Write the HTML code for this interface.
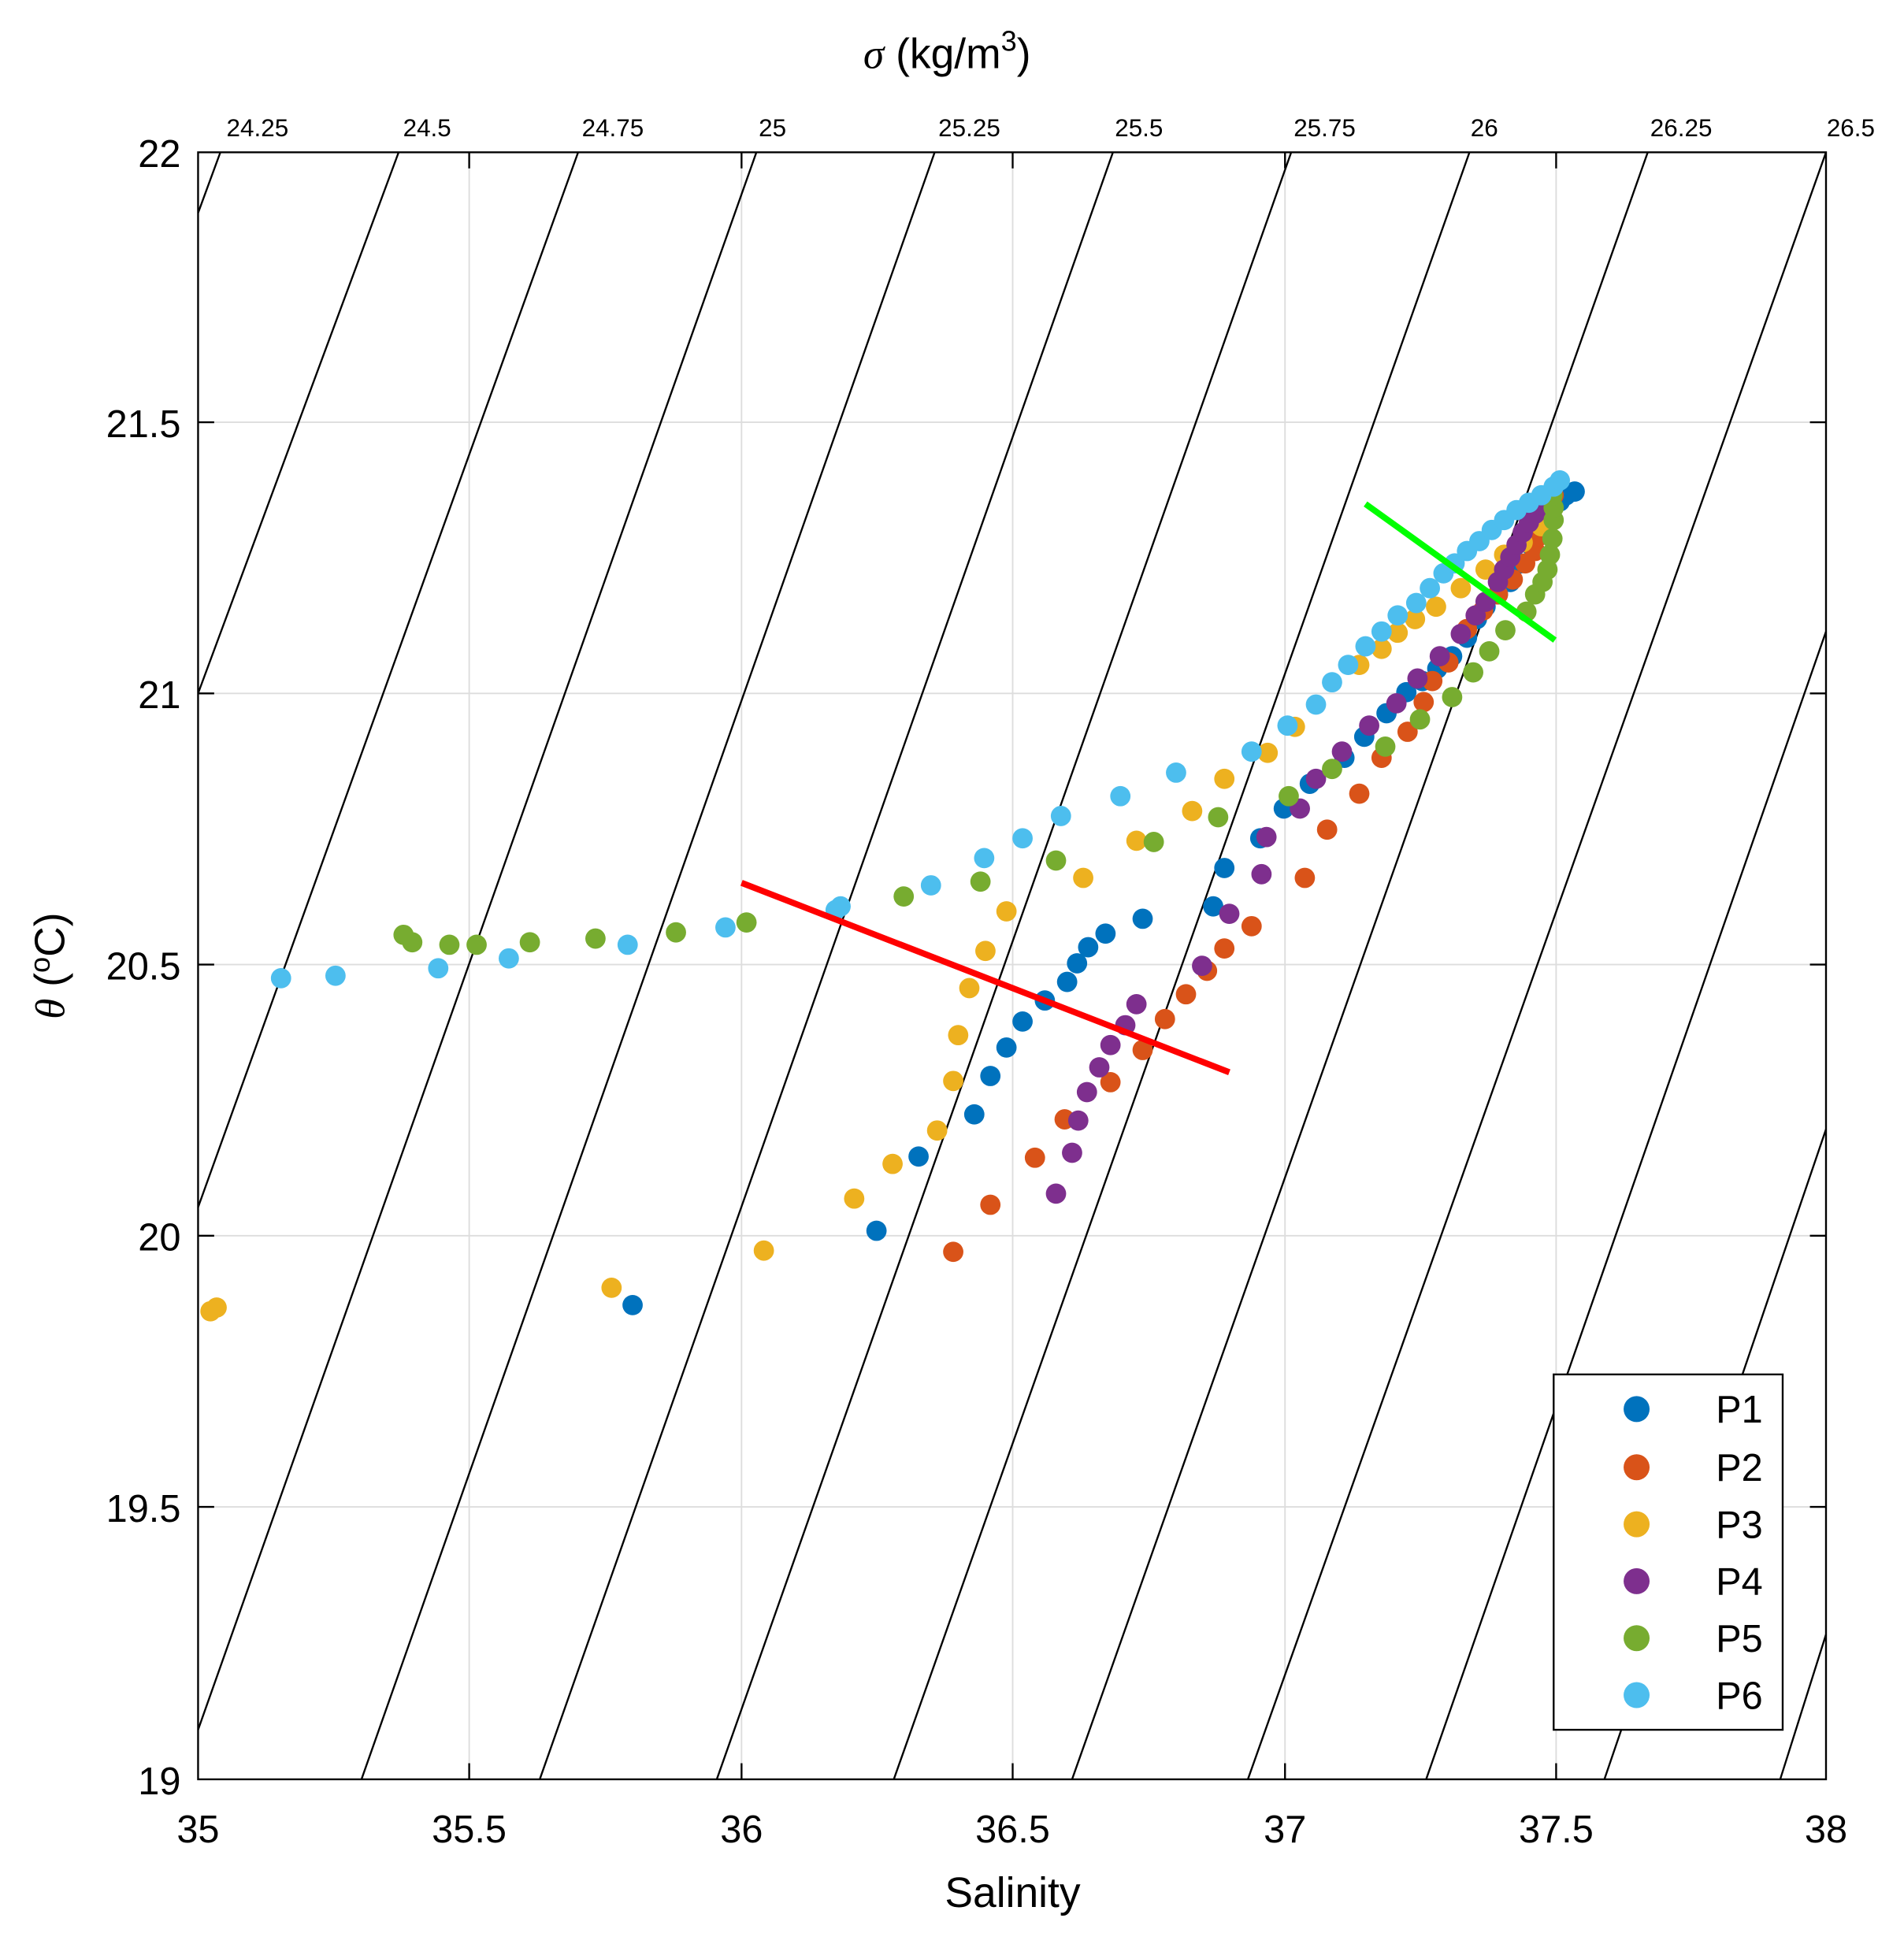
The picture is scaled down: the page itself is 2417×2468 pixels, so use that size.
<!DOCTYPE html>
<html><head><meta charset="utf-8"><style>html,body{margin:0;padding:0;background:#fff}svg{display:block}</style></head><body>
<svg width="2417" height="2468" viewBox="0 0 1538 1570" preserveAspectRatio="none" xmlns="http://www.w3.org/2000/svg" font-family="Liberation Sans, Arial, sans-serif">
<rect width="1538" height="1570" fill="#fff"/>
<g stroke="#ddd" stroke-width="1.2">
<line x1="379" y1="123" x2="379" y2="1437"/><line x1="599" y1="123" x2="599" y2="1437"/><line x1="818" y1="123" x2="818" y2="1437"/><line x1="1038" y1="123" x2="1038" y2="1437"/><line x1="1257" y1="123" x2="1257" y2="1437"/>
<line x1="160" y1="341" x2="1475" y2="341"/><line x1="160" y1="560" x2="1475" y2="560"/><line x1="160" y1="779" x2="1475" y2="779"/><line x1="160" y1="998" x2="1475" y2="998"/><line x1="160" y1="1217" x2="1475" y2="1217"/>
</g>
<g stroke="#000" stroke-width="1.5" fill="none">
<line x1="178" y1="123" x2="160" y2="172"/><line x1="322" y1="123" x2="160" y2="560"/><line x1="467" y1="123" x2="160" y2="975"/><line x1="611" y1="123" x2="160" y2="1397"/>
<line x1="755" y1="123" x2="292" y2="1437"/><line x1="899" y1="123" x2="436" y2="1437"/><line x1="1043" y1="123" x2="579" y2="1437"/><line x1="1187" y1="123" x2="722" y2="1437"/><line x1="1331" y1="123" x2="866" y2="1437"/><line x1="1475" y1="123" x2="1008" y2="1437"/>
<line x1="1475" y1="510" x2="1152" y2="1437"/><line x1="1475" y1="912" x2="1296" y2="1437"/><line x1="1475" y1="1320" x2="1438" y2="1437"/>
</g>
<g>
<g fill="#0072BD">
<circle cx="511" cy="1054" r="8.2"/><circle cx="708" cy="994" r="8.2"/><circle cx="742" cy="934" r="8.2"/><circle cx="787" cy="900" r="8.2"/><circle cx="800" cy="869" r="8.2"/><circle cx="813" cy="846" r="8.2"/><circle cx="826" cy="825" r="8.2"/><circle cx="844" cy="808" r="8.2"/><circle cx="862" cy="793" r="8.2"/><circle cx="870" cy="778" r="8.2"/><circle cx="879" cy="765" r="8.2"/><circle cx="893" cy="754" r="8.2"/><circle cx="923" cy="742" r="8.2"/><circle cx="980" cy="732" r="8.2"/><circle cx="989" cy="701" r="8.2"/><circle cx="1018" cy="677" r="8.2"/><circle cx="1037" cy="653" r="8.2"/><circle cx="1058" cy="633" r="8.2"/><circle cx="1086" cy="612" r="8.2"/><circle cx="1102" cy="595" r="8.2"/><circle cx="1120" cy="576" r="8.2"/><circle cx="1136" cy="559" r="8.2"/><circle cx="1149" cy="550" r="8.2"/><circle cx="1161" cy="540" r="8.2"/><circle cx="1173" cy="530" r="8.2"/><circle cx="1185" cy="515" r="8.2"/><circle cx="1193" cy="500" r="8.2"/><circle cx="1200" cy="490" r="8.2"/><circle cx="1210" cy="480" r="8.2"/><circle cx="1220" cy="470" r="8.2"/><circle cx="1228" cy="455" r="8.2"/><circle cx="1236" cy="440" r="8.2"/><circle cx="1244" cy="425" r="8.2"/><circle cx="1252" cy="413" r="8.2"/><circle cx="1260" cy="405" r="8.2"/><circle cx="1265" cy="400" r="8.2"/><circle cx="1272" cy="397" r="8.2"/>
</g>
<g fill="#D95319">
<circle cx="770" cy="1011" r="8.2"/><circle cx="800" cy="973" r="8.2"/><circle cx="836" cy="935" r="8.2"/><circle cx="860" cy="904" r="8.2"/><circle cx="897" cy="874" r="8.2"/><circle cx="923" cy="848" r="8.2"/><circle cx="941" cy="823" r="8.2"/><circle cx="958" cy="803" r="8.2"/><circle cx="975" cy="784" r="8.2"/><circle cx="989" cy="766" r="8.2"/><circle cx="1011" cy="748" r="8.2"/><circle cx="1054" cy="709" r="8.2"/><circle cx="1072" cy="670" r="8.2"/><circle cx="1098" cy="641" r="8.2"/><circle cx="1116" cy="612" r="8.2"/><circle cx="1137" cy="591" r="8.2"/><circle cx="1150" cy="567" r="8.2"/><circle cx="1157" cy="550" r="8.2"/><circle cx="1170" cy="535" r="8.2"/><circle cx="1185" cy="508" r="8.2"/><circle cx="1198" cy="493" r="8.2"/><circle cx="1210" cy="480" r="8.2"/><circle cx="1222" cy="468" r="8.2"/><circle cx="1232" cy="455" r="8.2"/><circle cx="1240" cy="445" r="8.2"/><circle cx="1243" cy="433" r="8.2"/><circle cx="1247" cy="420" r="8.2"/><circle cx="1250" cy="410" r="8.2"/><circle cx="1255" cy="400" r="8.2"/>
</g>
<g fill="#EDB120">
<circle cx="170" cy="1059" r="8.2"/><circle cx="175" cy="1056" r="8.2"/><circle cx="494" cy="1040" r="8.2"/><circle cx="617" cy="1010" r="8.2"/><circle cx="690" cy="968" r="8.2"/><circle cx="721" cy="940" r="8.2"/><circle cx="757" cy="913" r="8.2"/><circle cx="770" cy="873" r="8.2"/><circle cx="774" cy="836" r="8.2"/><circle cx="783" cy="798" r="8.2"/><circle cx="796" cy="768" r="8.2"/><circle cx="813" cy="736" r="8.2"/><circle cx="875" cy="709" r="8.2"/><circle cx="918" cy="679" r="8.2"/><circle cx="963" cy="655" r="8.2"/><circle cx="989" cy="629" r="8.2"/><circle cx="1024" cy="608" r="8.2"/><circle cx="1046" cy="587" r="8.2"/><circle cx="1098" cy="537" r="8.2"/><circle cx="1116" cy="524" r="8.2"/><circle cx="1129" cy="511" r="8.2"/><circle cx="1143" cy="500" r="8.2"/><circle cx="1160" cy="490" r="8.2"/><circle cx="1180" cy="475" r="8.2"/><circle cx="1200" cy="460" r="8.2"/><circle cx="1215" cy="448" r="8.2"/><circle cx="1230" cy="438" r="8.2"/><circle cx="1245" cy="425" r="8.2"/>
</g>
<g fill="#7E2F8E">
<circle cx="853" cy="964" r="8.2"/><circle cx="866" cy="931" r="8.2"/><circle cx="871" cy="905" r="8.2"/><circle cx="878" cy="882" r="8.2"/><circle cx="888" cy="862" r="8.2"/><circle cx="897" cy="844" r="8.2"/><circle cx="909" cy="828" r="8.2"/><circle cx="918" cy="811" r="8.2"/><circle cx="971" cy="780" r="8.2"/><circle cx="993" cy="738" r="8.2"/><circle cx="1019" cy="706" r="8.2"/><circle cx="1023" cy="676" r="8.2"/><circle cx="1050" cy="653" r="8.2"/><circle cx="1063" cy="629" r="8.2"/><circle cx="1084" cy="607" r="8.2"/><circle cx="1106" cy="586" r="8.2"/><circle cx="1128" cy="568" r="8.2"/><circle cx="1145" cy="548" r="8.2"/><circle cx="1163" cy="530" r="8.2"/><circle cx="1180" cy="512" r="8.2"/><circle cx="1192" cy="497" r="8.2"/><circle cx="1200" cy="486" r="8.2"/><circle cx="1210" cy="470" r="8.2"/><circle cx="1215" cy="460" r="8.2"/><circle cx="1220" cy="450" r="8.2"/><circle cx="1225" cy="440" r="8.2"/><circle cx="1230" cy="430" r="8.2"/><circle cx="1235" cy="422" r="8.2"/><circle cx="1240" cy="415" r="8.2"/><circle cx="1245" cy="408" r="8.2"/>
</g>
<g fill="#77AC30">
<circle cx="326" cy="755" r="8.2"/><circle cx="333" cy="761" r="8.2"/><circle cx="363" cy="763" r="8.2"/><circle cx="385" cy="763" r="8.2"/><circle cx="428" cy="761" r="8.2"/><circle cx="481" cy="758" r="8.2"/><circle cx="546" cy="753" r="8.2"/><circle cx="603" cy="745" r="8.2"/><circle cx="730" cy="724" r="8.2"/><circle cx="792" cy="712" r="8.2"/><circle cx="853" cy="695" r="8.2"/><circle cx="932" cy="680" r="8.2"/><circle cx="984" cy="660" r="8.2"/><circle cx="1041" cy="643" r="8.2"/><circle cx="1076" cy="621" r="8.2"/><circle cx="1119" cy="603" r="8.2"/><circle cx="1147" cy="581" r="8.2"/><circle cx="1173" cy="563" r="8.2"/><circle cx="1190" cy="543" r="8.2"/><circle cx="1203" cy="526" r="8.2"/><circle cx="1216" cy="509" r="8.2"/><circle cx="1233" cy="494" r="8.2"/><circle cx="1240" cy="480" r="8.2"/><circle cx="1246" cy="470" r="8.2"/><circle cx="1250" cy="460" r="8.2"/><circle cx="1252" cy="448" r="8.2"/><circle cx="1254" cy="435" r="8.2"/><circle cx="1255" cy="420" r="8.2"/><circle cx="1255" cy="410" r="8.2"/><circle cx="1254" cy="400" r="8.2"/>
</g>
<g fill="#4DBEEE">
<circle cx="227" cy="790" r="8.2"/><circle cx="271" cy="788" r="8.2"/><circle cx="354" cy="782" r="8.2"/><circle cx="411" cy="774" r="8.2"/><circle cx="507" cy="763" r="8.2"/><circle cx="586" cy="749" r="8.2"/><circle cx="675" cy="735" r="8.2"/><circle cx="679" cy="732" r="8.2"/><circle cx="752" cy="715" r="8.2"/><circle cx="795" cy="693" r="8.2"/><circle cx="826" cy="677" r="8.2"/><circle cx="857" cy="659" r="8.2"/><circle cx="905" cy="643" r="8.2"/><circle cx="950" cy="624" r="8.2"/><circle cx="1011" cy="607" r="8.2"/><circle cx="1040" cy="586" r="8.2"/><circle cx="1063" cy="569" r="8.2"/><circle cx="1076" cy="551" r="8.2"/><circle cx="1089" cy="537" r="8.2"/><circle cx="1103" cy="522" r="8.2"/><circle cx="1116" cy="510" r="8.2"/><circle cx="1129" cy="497" r="8.2"/><circle cx="1144" cy="487" r="8.2"/><circle cx="1155" cy="475" r="8.2"/><circle cx="1166" cy="463" r="8.2"/><circle cx="1175" cy="455" r="8.2"/><circle cx="1185" cy="445" r="8.2"/><circle cx="1195" cy="437" r="8.2"/><circle cx="1205" cy="428" r="8.2"/><circle cx="1215" cy="420" r="8.2"/><circle cx="1225" cy="412" r="8.2"/><circle cx="1235" cy="406" r="8.2"/><circle cx="1245" cy="400" r="8.2"/><circle cx="1255" cy="393" r="8.2"/><circle cx="1260" cy="388" r="8.2"/>
</g>
</g>
<line x1="599" y1="713" x2="993" y2="866" stroke="#ff0000" stroke-width="5"/>
<line x1="1103" y1="407" x2="1256" y2="517" stroke="#00ff00" stroke-width="5"/>
<rect x="160" y="123" width="1315" height="1314" fill="none" stroke="#000" stroke-width="1.5"/>
<g stroke="#000" stroke-width="1.5">
<line x1="379" y1="1437" x2="379" y2="1424"/><line x1="599" y1="1437" x2="599" y2="1424"/><line x1="818" y1="1437" x2="818" y2="1424"/><line x1="1038" y1="1437" x2="1038" y2="1424"/><line x1="1257" y1="1437" x2="1257" y2="1424"/>
<line x1="379" y1="123" x2="379" y2="136"/><line x1="599" y1="123" x2="599" y2="136"/><line x1="818" y1="123" x2="818" y2="136"/><line x1="1038" y1="123" x2="1038" y2="136"/><line x1="1257" y1="123" x2="1257" y2="136"/>
<line x1="160" y1="341" x2="173" y2="341"/><line x1="160" y1="560" x2="173" y2="560"/><line x1="160" y1="779" x2="173" y2="779"/><line x1="160" y1="998" x2="173" y2="998"/><line x1="160" y1="1217" x2="173" y2="1217"/>
<line x1="1475" y1="341" x2="1462" y2="341"/><line x1="1475" y1="560" x2="1462" y2="560"/><line x1="1475" y1="779" x2="1462" y2="779"/><line x1="1475" y1="998" x2="1462" y2="998"/><line x1="1475" y1="1217" x2="1462" y2="1217"/>
</g>
<g font-size="31" text-anchor="middle">
<text x="160" y="1488">35</text><text x="379" y="1488">35.5</text><text x="599" y="1488">36</text><text x="818" y="1488">36.5</text><text x="1038" y="1488">37</text><text x="1257" y="1488">37.5</text><text x="1475" y="1488">38</text>
</g>
<g font-size="31" text-anchor="end">
<text x="146" y="135">22</text><text x="146" y="353">21.5</text><text x="146" y="572">21</text><text x="146" y="791">20.5</text><text x="146" y="1010">20</text><text x="146" y="1229">19.5</text><text x="146" y="1449">19</text>
</g>
<g font-size="20" text-anchor="middle">
<text x="208" y="110">24.25</text><text x="345" y="110">24.5</text><text x="495" y="110">24.75</text><text x="624" y="110">25</text><text x="783" y="110">25.25</text><text x="920" y="110">25.5</text><text x="1070" y="110">25.75</text><text x="1199" y="110">26</text><text x="1358" y="110">26.25</text><text x="1495" y="110">26.5</text>
</g>
<text x="818" y="1540" font-size="34" text-anchor="middle">Salinity</text>
<text x="765" y="55" font-size="34" text-anchor="middle"><tspan font-family="Liberation Serif, serif" font-style="italic">σ</tspan> (kg/m<tspan dy="-14" font-size="23">3</tspan><tspan dy="14">)</tspan></text>
<text transform="translate(52,780) rotate(-90)" font-size="34" text-anchor="middle"><tspan font-family="Liberation Serif, serif" font-style="italic">θ</tspan> (<tspan dy="-12" font-size="23">o</tspan><tspan dy="12">C)</tspan></text>
<rect x="1255" y="1110" width="185" height="287" fill="#fff" stroke="#000" stroke-width="1.5"/>
<g font-size="31">
<circle cx="1322" cy="1138" r="10.5" fill="#0072BD"/><text x="1386" y="1149">P1</text>
<circle cx="1322" cy="1185" r="10.5" fill="#D95319"/><text x="1386" y="1196">P2</text>
<circle cx="1322" cy="1231" r="10.5" fill="#EDB120"/><text x="1386" y="1242">P3</text>
<circle cx="1322" cy="1277" r="10.5" fill="#7E2F8E"/><text x="1386" y="1288">P4</text>
<circle cx="1322" cy="1323" r="10.5" fill="#77AC30"/><text x="1386" y="1334">P5</text>
<circle cx="1322" cy="1369" r="10.5" fill="#4DBEEE"/><text x="1386" y="1380">P6</text>
</g>
</svg>
</body></html>
